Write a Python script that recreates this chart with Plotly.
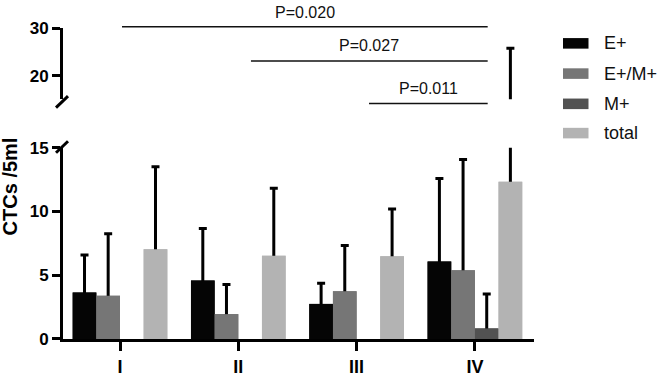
import plotly.graph_objects as go

# ---------------- data ----------------
stages = ["I", "II", "III", "IV"]
series_names = ["E+", "E+/M+", "M+", "total"]
e_pos = [3.65, 4.58, 2.75, 6.08]
e_pos_err = [2.93, 4.08, 1.63, 6.50]
em_pos = [3.40, 1.95, 3.75, 5.40]
em_pos_err = [4.85, 2.33, 3.58, 8.68]
m_pos = [0, 0, 0, 0.83]
m_pos_err = [None, None, None, 2.70]
total = [7.03, 6.53, 6.48, 12.33]
total_err = [6.47, 5.30, 3.72, 13.43]
p_labels = ["P=0.020", "P=0.027", "P=0.011"]
p_from = [0.017, 1.107, 2.105]
p_to = [3.108, 3.108, 3.108]
lower_ticks = [0, 5, 10, 15]
upper_ticks = [20, 30]

values = [e_pos, em_pos, m_pos, total]
errors = [e_pos_err, em_pos_err, m_pos_err, total_err]

# ---------------- style ----------------
colors = ["#050505", "#767676", "#525252", "#b3b3b3"]
FONT = "Liberation Sans, Arial, sans-serif"
W, H = 664, 389
ML, MR, MT, MB = 63, 130, 28, 37
PW, PH = W - ML - MR, H - MT - MB
CAT_PX = 118.3  # px per category
X_LO = (ML - 120) / CAT_PX
X_HI = X_LO + PW / CAT_PX


def px2x(px):
    return (px - ML) / PW


def px2y(py):
    return (H - MB - py) / PH


fig = go.Figure()
err_style = dict(type="data", symmetric=False, color="black", thickness=3, width=4)

# lower panel: error whiskers (drawn first, run down below the axis and get clipped)
for i, (name, vals, errs, col) in enumerate(zip(series_names, values, errors, colors)):
    xs = [s for s, e in zip(stages, errs) if e is not None]
    ys = [v for v, e in zip(vals, errs) if e is not None]
    es = [e for e in errs if e is not None]
    fig.add_trace(go.Bar(
        x=xs, y=ys, name=name, offsetgroup=str(i),
        marker=dict(color=col, line=dict(width=0)),
        error_y=dict(err_style, array=es, arrayminus=[v + 1 for v in ys]),
        xaxis="x", yaxis="y", showlegend=False, hoverinfo="skip",
    ))
# lower panel: the bars themselves, covering the lower part of the whiskers
for i, (name, vals, col) in enumerate(zip(series_names, values, colors)):
    fig.add_trace(go.Bar(
        x=stages, y=vals, name=name, offsetgroup=str(i),
        marker=dict(color=col, line=dict(width=0)),
        xaxis="x", yaxis="y", showlegend=False,
    ))
# upper panel (values 15-30): same data, only what exceeds 15 shows
for i, (name, vals, errs, col) in enumerate(zip(series_names, values, errors, colors)):
    xs = [s for s, e in zip(stages, errs) if e is not None]
    ys = [v for v, e in zip(vals, errs) if e is not None]
    es = [e for e in errs if e is not None]
    fig.add_trace(go.Bar(
        x=xs, y=ys, name=name, offsetgroup=str(i),
        marker=dict(color=col, line=dict(width=0)),
        error_y=dict(err_style, array=es, arrayminus=[0] * len(es)),
        xaxis="x2", yaxis="y2", showlegend=False, hoverinfo="skip",
    ))

axis_common = dict(showline=True, linewidth=3, linecolor="black", ticks="outside",
                   tickwidth=3, tickcolor="black", showgrid=False, zeroline=False,
                   tickfont=dict(family=FONT, size=17, color="black", weight="bold"))

lower_top = px2y(152.7)
upper_bot = px2y(102.3)

fig.update_layout(
    width=W, height=H, margin=dict(l=ML, r=MR, t=MT, b=MB),
    paper_bgcolor="white", plot_bgcolor="white",
    barmode="group", bargap=0.2, bargroupgap=0,
    xaxis=dict(axis_common, domain=[0, 1], range=[X_LO, X_HI], anchor="y",
               ticklen=9, tickfont=dict(family=FONT, size=18, color="black", weight="bold")),
    yaxis=dict(axis_common, domain=[0, lower_top], range=[0, 15], anchor="x",
               tickvals=lower_ticks, ticklen=8),
    xaxis2=dict(domain=[0, 1], range=[X_LO, X_HI], anchor="y2", matches="x",
                visible=False),
    yaxis2=dict(axis_common, domain=[upper_bot, 1], range=[15, 30], anchor="x2",
                tickvals=upper_ticks, ticklen=8),
)

shapes = []
# axis break slashes
shapes.append(dict(type="line", xref="paper", yref="paper",
                   x0=px2x(56), y0=px2y(158), x1=px2x(68), y1=px2y(146),
                   line=dict(color="black", width=3)))
shapes.append(dict(type="line", xref="paper", yref="paper",
                   x0=px2x(56), y0=px2y(111), x1=px2x(68), y1=px2y(99),
                   line=dict(color="black", width=3)))

annotations = []
p_y_line = [26.7, 62.3, 106.7]
p_y_text = [11.7, 46.7, 90.7]
for lab, a, b, yl, yt in zip(p_labels, p_from, p_to, p_y_line, p_y_text):
    shapes.append(dict(type="line", xref="x", yref="paper", x0=a, x1=b,
                       y0=px2y(yl), y1=px2y(yl), line=dict(color="#111", width=1.5)))
    annotations.append(dict(text=lab, xref="x", yref="paper", x=(a + b) / 2,
                            y=px2y(yt), showarrow=False, xanchor="center",
                            yanchor="middle",
                            font=dict(family=FONT, size=16, color="#111")))

# custom legend
leg_rows = [44, 75.5, 107, 137.5]
for name, col, cy in zip(series_names, colors, leg_rows):
    shapes.append(dict(type="rect", xref="paper", yref="paper",
                       x0=px2x(563), x1=px2x(588.5), y0=px2y(cy + 5.5), y1=px2y(cy - 5.5),
                       fillcolor=col, line=dict(width=0)))
    annotations.append(dict(text=name, xref="paper", yref="paper", x=px2x(602),
                            y=px2y(cy), showarrow=False, xanchor="left", yanchor="middle",
                            font=dict(family=FONT, size=18, color="#111")))

# y-axis title
annotations.append(dict(text="<b>CTCs /5ml</b>", xref="paper", yref="paper",
                        x=px2x(10), y=px2y(193), textangle=-90, showarrow=False,
                        xanchor="center", yanchor="middle",
                        font=dict(family=FONT, size=20, color="black")))

fig.update_layout(shapes=shapes, annotations=annotations)
fig.write_html(
    "out.html",
    config={"displayModeBar": False},
    post_script=(
        "document.documentElement.style.margin='0';"
        "document.documentElement.style.overflow='hidden';"
        "document.body.style.margin='0';"
        "document.body.style.overflow='hidden';"
    ),
)
